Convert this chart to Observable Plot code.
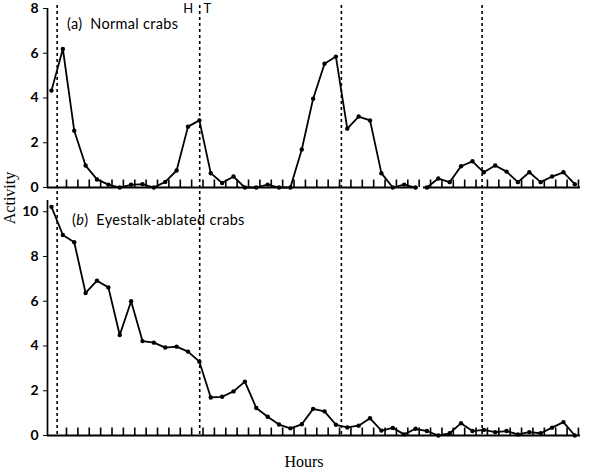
<!DOCTYPE html>
<html><head><meta charset="utf-8">
<script src="https://cdn.jsdelivr.net/npm/d3@7"></script>
<script src="https://cdn.jsdelivr.net/npm/@observablehq/plot@0.6"></script>
<style>
body{margin:0;background:#fff;}
#wrap{position:relative;width:589px;height:476px;background:#fff;font-family:Lato,sans-serif;color:#000;}
#a{position:absolute;left:0;top:0;}
#b{position:absolute;left:0;top:197px;}
.plab{position:absolute;font-family:Lato,sans-serif;font-size:14.5px;letter-spacing:0.3px;line-height:1;white-space:pre;}
#ylab{position:absolute;left:10px;top:198px;transform:translate(-50%,-50%) rotate(-90deg);font-family:"Liberation Serif",serif;font-size:16px;white-space:nowrap;line-height:1;}
#xlab{position:absolute;left:304px;top:454px;transform:translateX(-50%);font-family:"Liberation Serif",serif;font-size:16px;line-height:1;}
</style></head><body>
<div id="wrap">
  <div id="a"></div><div id="b"></div>
  <div class="plab" style="left:67px;top:17px;">(a)  Normal crabs</div>
  <div class="plab" style="left:72px;top:213px;">(<i>b</i>)  Eyestalk-ablated crabs</div>
  <div id="ylab">Activity</div>
  <div id="xlab">Hours</div>
</div>
<script>
// Hourly activity counts
const hours = d3.range(0, 47);
const normal = [4.33, 6.19, 2.54, 0.98, 0.36, 0.13, 0, 0.12, 0.15, 0, 0.25, 0.76, 2.72, 3.0, 0.64, 0.2, 0.49, 0, 0, 0.13, 0, 0, 1.7, 3.97, 5.53, 5.85, 2.63, 3.17, 3.0, 0.64, 0, 0.13, 0, 0, 0.4, 0.24, 0.95, 1.17, 0.68, 0.98, 0.71, 0.24, 0.68, 0.24, 0.49, 0.68, 0.15];
const ablated = [10.22, 8.96, 8.64, 6.37, 6.92, 6.62, 4.49, 6.0, 4.22, 4.15, 3.93, 3.97, 3.75, 3.30, 1.70, 1.73, 1.97, 2.41, 1.23, 0.84, 0.49, 0.32, 0.5, 1.19, 1.08, 0.48, 0.36, 0.44, 0.77, 0.22, 0.34, 0.05, 0.3, 0.2, 0, 0.1, 0.55, 0.2, 0.25, 0.15, 0.2, 0.05, 0.15, 0.1, 0.35, 0.6, 0];
// recording sessions (break in record for normal crabs)
const sessionA = hours.map(h => h <= 32 ? 1 : 2);
// High tide times (hours)
const highTide = [0.5, 13.03, 25.48, 37.85];
const hourTicks = d3.range(1, 47).map(k => k + 0.32);
const yTicksA = [0, 2, 4, 6, 8];
const yTicksB = [0, 2, 4, 6, 8, 10];
const xDomain = [-0.35, 46.5];
const axisSegsA = [{x1: -0.35, x2: 32.25}, {x1: 32.7, x2: 46.5}];
const axisSegsB = [{x1: -0.35, x2: 46.5}];

const W = 589, ML = 47, MR = 9;
const pxPerUnit = 179 / 8;

function panel({values, session, yTicks, height, marginTop, marginBottom, segs, extraTop, extraBottom, ht}) {
  const yMax = (height - marginTop - marginBottom) / pxPerUnit;
  const data = hours.map((h, i) => ({h, v: values[i], s: session ? session[i] : 1}));
  const marks = [
    Plot.ruleX(highTide, {x: d => d, stroke: "#000", strokeWidth: 1.6, strokeDasharray: "3,3", insetTop: -extraTop, insetBottom: -extraBottom}),
    Plot.ruleX([xDomain[0]], {stroke: "#000", strokeWidth: 1.7}),
    Plot.ruleY(segs, {y: 0, x1: "x1", x2: "x2", stroke: "#000", strokeWidth: 1.9}),
    Plot.tickX(hourTicks, {x: d => d, stroke: "#000", strokeWidth: 1.6, insetTop: height - marginTop - marginBottom - 7.5}),
    Plot.axisY({ticks: yTicks, tickSize: 4, tickPadding: 5, label: null, tickFormat: d => d, fontWeight: "bold"}),
    Plot.line(data, {x: "h", y: "v", z: "s", stroke: "#000", strokeWidth: 1.8}),
    Plot.dot(data, {x: "h", y: "v", r: 2.2, fill: "#000", stroke: "none"})
  ];
  if (ht) {
    marks.push(Plot.text([highTide[1]], {x: d => d, frameAnchor: "top", lineAnchor: "middle", text: () => "H", dx: -11.5, fontSize: 13}));
    marks.push(Plot.text([highTide[1]], {x: d => d, frameAnchor: "top", lineAnchor: "middle", text: () => "T", dx: 7.7, fontSize: 13}));
  }
  return Plot.plot({
    width: W, height, marginLeft: ML, marginRight: MR, marginTop, marginBottom,
    style: {fontFamily: "Lato, sans-serif", fontSize: "14px", color: "#000", background: "#fff", overflow: "visible"},
    x: {domain: xDomain, axis: null},
    y: {domain: [0, yMax]},
    marks
  });
}

document.getElementById("a").appendChild(panel({values: normal, session: sessionA, yTicks: yTicksA, height: 197, marginTop: 8, marginBottom: 10, segs: axisSegsA, extraTop: 3, extraBottom: 10, ht: true}));
document.getElementById("b").appendChild(panel({values: ablated, session: null, yTicks: yTicksB, height: 248, marginTop: 3, marginBottom: 10, segs: axisSegsB, extraTop: 3, extraBottom: 0, ht: false}));
</script>
</body></html>
